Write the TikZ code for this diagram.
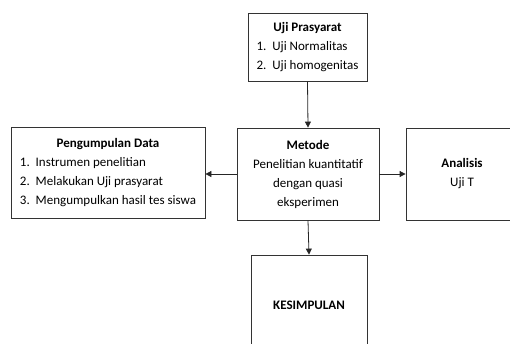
\documentclass[tikz,border=0pt]{standalone}
\usepackage{fontspec}
\setmainfont{Carlito}
\usetikzlibrary{arrows.meta}

\tikzset{
  kotak/.style={draw=black!80, line width=0.8pt, inner sep=0pt, align=center,
    font=\fontsize{13}{19}\selectfont},
  panah/.style={draw=black!85, line width=0.8pt, -{Triangle[length=6pt,width=6pt]}}
}

\begin{document}
\begin{tikzpicture}[x=1pt,y=-1pt]
      \useasboundingbox (0,0) rectangle (510,343);

      \node[kotak, minimum width=119pt, minimum height=68pt] (prasyarat) at (307.5,47)
        {\begin{tabular}{@{}l@{\ \ }l@{}}
          \multicolumn{2}{c}{\textbf{Uji Prasyarat}}\\
          1. & Uji Normalitas\\
          2. & Uji homogenitas
        \end{tabular}};
      \node[kotak, minimum width=142pt, minimum height=92pt] (metode) at (308,174)
        {\textbf{Metode}\\Penelitian kuantitatif\\dengan quasi\\eksperimen};
      \node[kotak, minimum width=194pt, minimum height=91pt] (pengumpulan) at (108,172.5)
        {\begin{tabular}{@{}l@{\ \ }l@{}}
          \multicolumn{2}{c}{\textbf{Pengumpulan Data}}\\
          1. & Instrumen penelitian\\
          2. & Melakukan Uji prasyarat\\
          3. & Mengumpulkan hasil tes siswa
        \end{tabular}};
      \node[kotak, minimum width=112pt, minimum height=92pt] (analisis) at (462,174)
        {\textbf{Analisis}\\Uji T};
      \node[kotak, minimum width=116pt, minimum height=100pt] (kesimpulan) at (309,305)
        {\textbf{KESIMPULAN}};

      \draw[panah] (prasyarat.south) -- (metode.north);
      \draw[panah] (metode.west) -- (metode.west -| pengumpulan.east);
      \draw[panah] (metode.east) -- (analisis.west);
      \draw[panah] (metode.south) -- (kesimpulan.north);

    \end{tikzpicture}
\end{document}
